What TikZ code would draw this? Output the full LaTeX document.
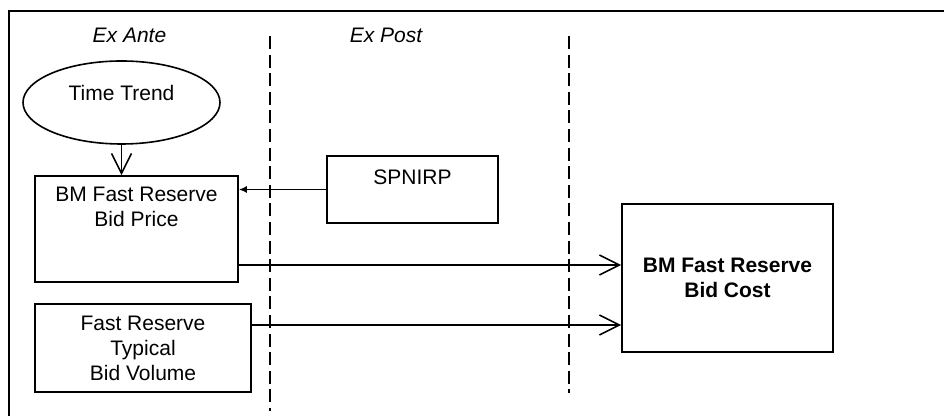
\documentclass[tikz,border=0pt]{standalone}
\usepackage{fontspec}
\setmainfont{Liberation Sans}
\usetikzlibrary{arrows.meta,shapes.geometric}

\begin{document}
\begin{tikzpicture}[x=0.5pt, y=-0.5pt,
font=\fontsize{10.5}{12.5}\selectfont,
box/.style={draw, line width=0.8pt, rectangle, inner sep=0pt, align=center},
phase/.style={font=\fontsize{10.5}{12.5}\selectfont\itshape},
divider/.style={line width=1.2pt, dash pattern=on 6.5pt off 2.8pt},
flow/.style={line width=0.8pt, -{Straight Barb[length=10pt,width=10pt]}},
feed/.style={line width=0.8pt, -{Latex[length=4pt,width=3.5pt]}}]
\useasboundingbox (0,0) rectangle (944,416);
\draw[line width=1pt] (944,11) -- (9,11) -- (9,416);

\node[phase] (ante) at (129.5,35) {Ex Ante};
\node[phase] (post) at (386,35) {Ex Post};
\draw[divider] (270,36) -- (270,411);
\draw[divider] (569,36) -- (569,393);

\node[ellipse, draw, line width=0.8pt, minimum width=98.5pt, minimum height=41.5pt,
    label={[yshift=4.75pt]center:Time Trend}] (trend) at (121.5,102.5) {};
\node[box, minimum width=101.5pt, minimum height=53pt,
    label={[anchor=north, align=center, yshift=-2.25pt]north:BM Fast Reserve\\Bid Price}] (price) at (136.5,229) {};
\node[box, minimum width=108pt, minimum height=44pt] (volume) at (143,348)
    {Fast Reserve\\Typical\\Bid Volume};
\node[box, minimum width=85.5pt, minimum height=33.5pt,
    label={[anchor=north, yshift=-3.75pt]north:SPNIRP}] (spnirp) at (412.5,189.5) {};
\node[box, minimum width=105.5pt, minimum height=74pt, font=\fontsize{10.5}{12.5}\selectfont\bfseries] (cost) at (727.5,278)
    {BM Fast Reserve\\Bid Cost};

\draw[flow] (trend.south) -- (trend.south |- price.north);
\draw[feed] (spnirp.west) -- (spnirp.west -| price.east);
\draw[flow] ([yshift=-18pt]price.east) -- ([yshift=-18pt]price.east -| cost.west);
\draw[flow] ([yshift=11.5pt]volume.east) -- ([yshift=11.5pt]volume.east -| cost.west);
\end{tikzpicture}
\end{document}
